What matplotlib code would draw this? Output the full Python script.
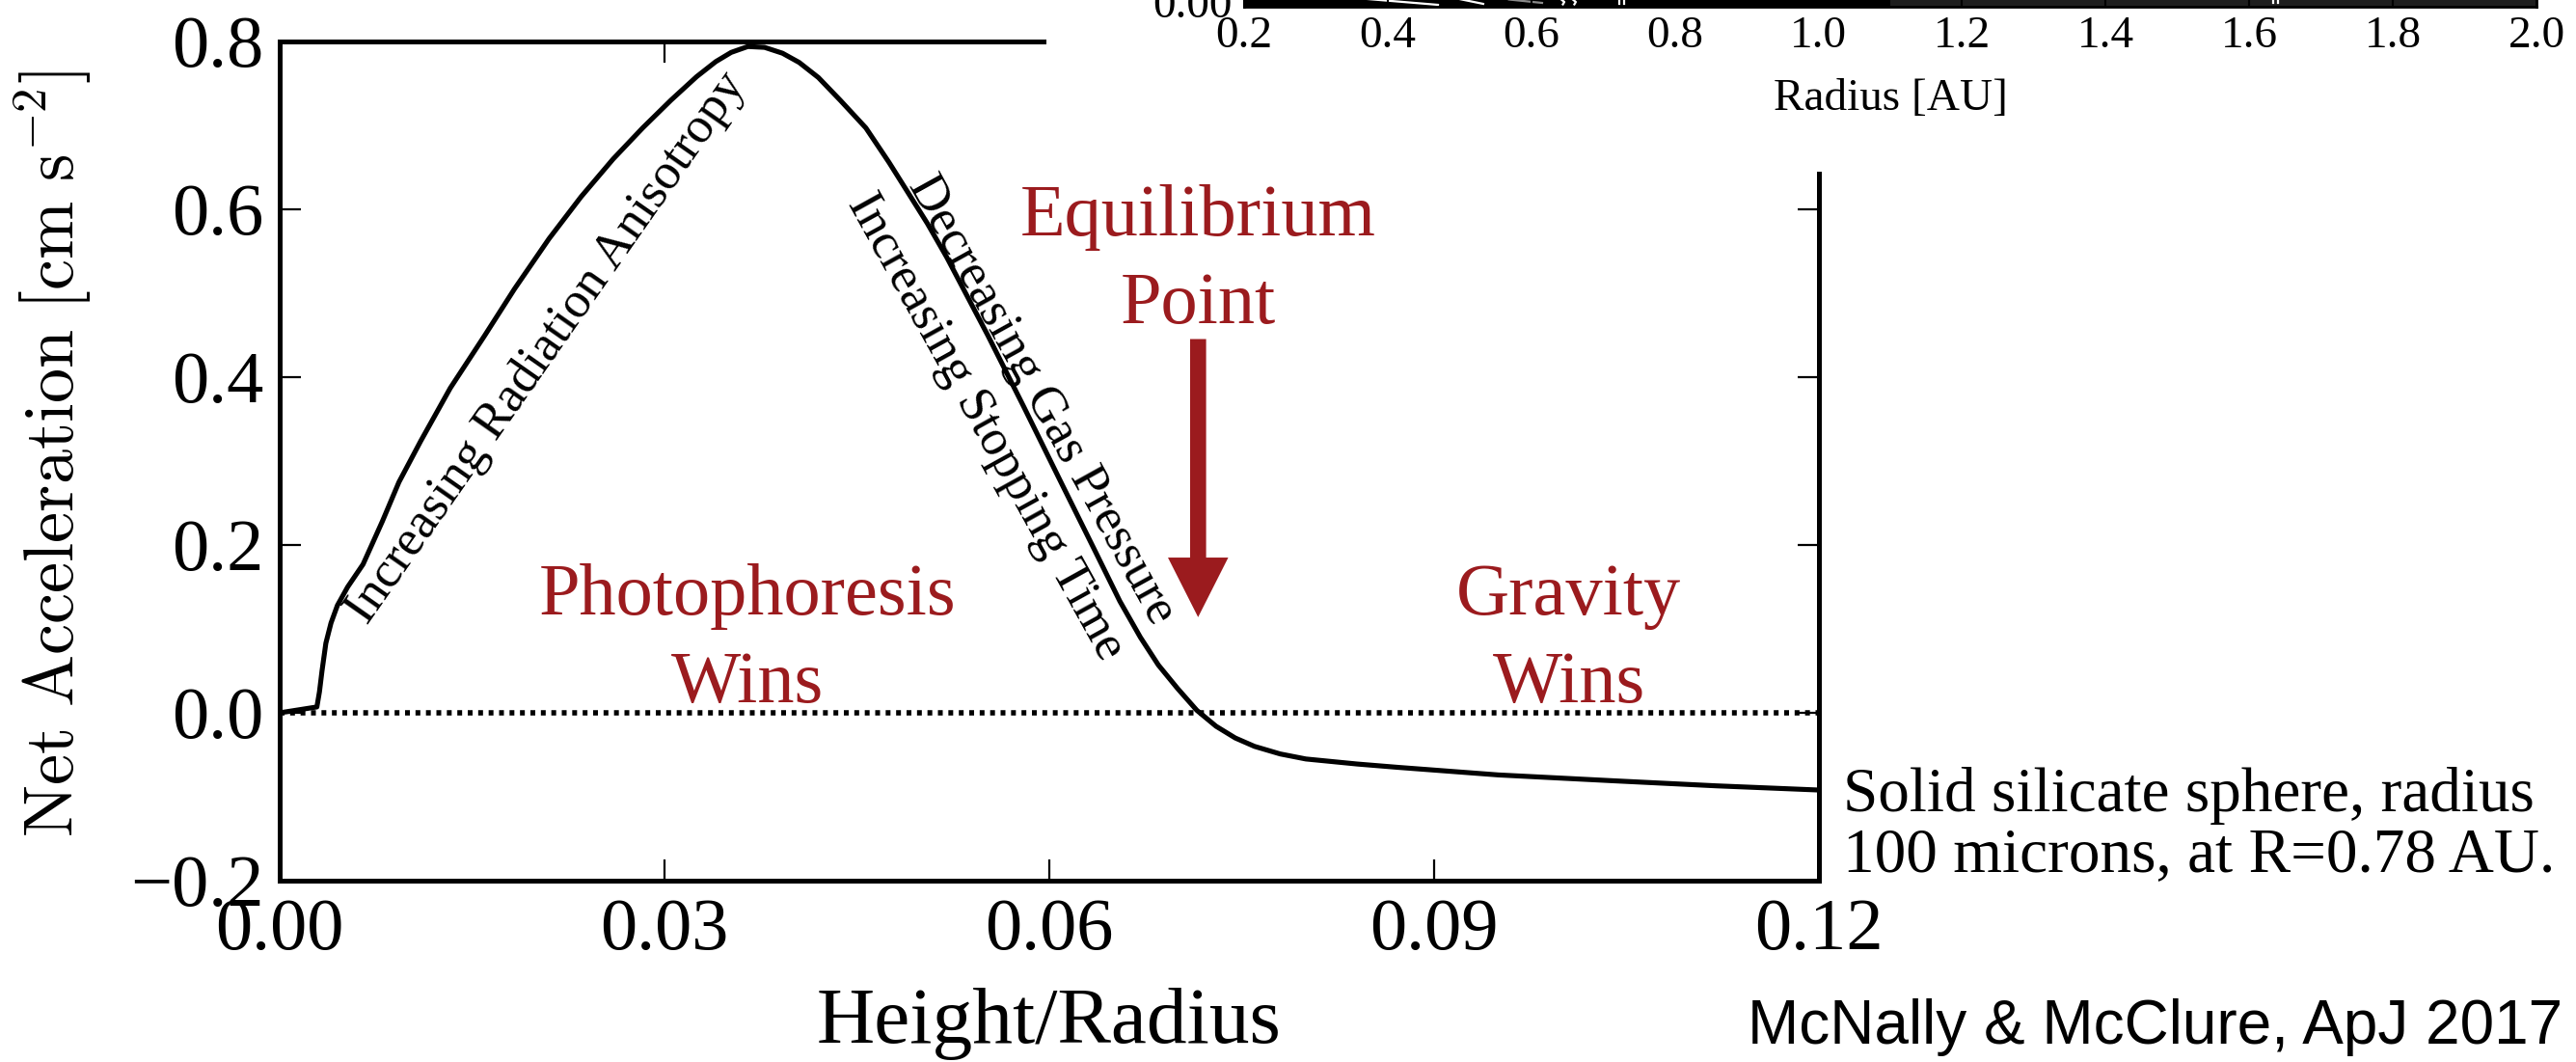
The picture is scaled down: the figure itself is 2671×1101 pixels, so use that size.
import matplotlib
matplotlib.use("Agg")
import matplotlib.pyplot as plt
from matplotlib.patches import Rectangle

plt.rcParams["font.family"] = ["Liberation Serif", "DejaVu Serif"]
plt.rcParams["mathtext.fontset"] = "cm"

# ---- main curve: net acceleration vs height above the midplane ----
height_over_radius = [0.0000, 0.0029, 0.0031, 0.0033, 0.0036, 0.0040, 0.0045, 0.0053,
                      0.0065, 0.0080, 0.0093, 0.0110, 0.0133, 0.0160, 0.0183, 0.0210,
                      0.0235, 0.0260, 0.0283, 0.0305, 0.0325, 0.0340, 0.0352, 0.0365,
                      0.0378, 0.0392, 0.0405, 0.0420, 0.0437, 0.0457, 0.0475, 0.0489,
                      0.0505, 0.0520, 0.0552, 0.0580, 0.0610, 0.0635, 0.0655, 0.0671,
                      0.0685, 0.0700, 0.0715, 0.0730, 0.0745, 0.0760, 0.0780, 0.0800,
                      0.0840, 0.0872, 0.0950, 0.1040, 0.1120, 0.1200]
net_acceleration = [0.000, 0.007, 0.025, 0.050, 0.083, 0.107, 0.128, 0.150,
                    0.177, 0.228, 0.275, 0.324, 0.387, 0.450, 0.505, 0.565,
                    0.615, 0.660, 0.697, 0.730, 0.758, 0.776, 0.787, 0.794,
                    0.793, 0.786, 0.775, 0.757, 0.730, 0.697, 0.656, 0.622,
                    0.583, 0.543, 0.450, 0.365, 0.272, 0.195, 0.133, 0.090,
                    0.057, 0.029, 0.003, -0.016, -0.030, -0.040, -0.049, -0.055,
                    -0.061, -0.065, -0.074, -0.081, -0.087, -0.092]

x_ticks = [0.0, 0.03, 0.06, 0.09, 0.12]
x_tick_labels = ["0.00", "0.03", "0.06", "0.09", "0.12"]
y_ticks = [-0.2, 0.0, 0.2, 0.4, 0.6, 0.8]
y_tick_labels = ["\u22120.2", "0.0", "0.2", "0.4", "0.6", "0.8"]

# equilibrium arrow (data units)
arrow_x = 0.0716
arrow_top = 0.4454
arrow_tip = 0.114

# ---- inset: radial map strip ----
inset_ticks = [0.2, 0.4, 0.6, 0.8, 1.0, 1.2, 1.4, 1.6, 1.8, 2.0]
inset_tick_labels = ["0.2", "0.4", "0.6", "0.8", "1.0", "1.2", "1.4", "1.6", "1.8", "2.0"]
inset_y_ticks = [0.0]
inset_y_tick_labels = ["0.00"]
inset_shade_start = 1.1
contour_a_r = [0.36, 0.47]
contour_a_z = [0.015, -0.012]
contour_b_r = [0.50, 0.533]
contour_b_z = [0.012, -0.008]
contour_c_r = [0.569, 0.615]
contour_c_z = [0.010, -0.004]
contour_d_r = [0.641, 0.646, 0.644]
contour_d_z = [0.012, 0.0, -0.010]
contour_e_r = [0.657, 0.662, 0.660]
contour_e_z = [0.012, 0.0, -0.010]
contour_f_r = [0.722, 0.722]
contour_f_z = [0.012, -0.008]
contour_g_r = [0.729, 0.729]
contour_g_z = [0.012, -0.008]
contour_h_r = [1.633, 1.633]
contour_h_z = [0.012, -0.004]
contour_i_r = [1.640, 1.640]
contour_i_z = [0.012, -0.004]

RED = "#9b1b1e"
W, H = 2671, 1101
fig = plt.figure(figsize=(W / 100, H / 100), dpi=100)


def px_box(left, top, right, bottom):
    return [left / W, 1 - bottom / H, (right - left) / W, (bottom - top) / H]


ax = fig.add_axes(px_box(290, 43, 1886, 913))
ax.set_xlim(0, 0.12)
ax.set_ylim(-0.2, 0.8)
ax.plot(height_over_radius, net_acceleration, color="black", lw=3.7,
        solid_joinstyle="round", solid_capstyle="round", zorder=3)
ax.axhline(0.0, color="black", lw=4.0, ls=(0, (0.9, 1.05)), zorder=2)

for s in ax.spines.values():
    s.set_linewidth(3.6)
ax.set_xticks(x_ticks, x_tick_labels)
ax.set_yticks(y_ticks, y_tick_labels)
ax.tick_params(direction="in", length=16, width=1.6, top=True, right=True,
               labelsize=55)
ax.tick_params(axis="x", pad=13)
ax.tick_params(axis="y", pad=12)

# regime labels
ax.text(0.0365, 0.117, "Photophoresis", color=RED, fontsize=55, ha="center", va="baseline")
ax.text(0.0365, 0.013, "Wins", color=RED, fontsize=55, ha="center", va="baseline")
ax.text(0.1005, 0.117, "Gravity", color=RED, fontsize=55, ha="center", va="baseline")
ax.text(0.1005, 0.013, "Wins", color=RED, fontsize=55, ha="center", va="baseline")
ax.text(arrow_x, 0.5695, "Equilibrium", color=RED, fontsize=55, ha="center", va="baseline")
ax.text(arrow_x, 0.4644, "Point", color=RED, fontsize=55, ha="center", va="baseline")

ax.arrow(arrow_x, arrow_top, 0, arrow_tip - arrow_top, width=0.00125,
         head_width=0.0047, head_length=0.071, length_includes_head=True,
         color=RED, lw=0, zorder=4)

# annotations along the curve
ax.text(0.02083, 0.4345, "Increasing Radiation Anisotropy", fontsize=38,
        rotation=55, rotation_mode="anchor", ha="center", va="center")
ax.text(0.0594, 0.3736, "Decreasing Gas Pressure", fontsize=38,
        rotation=-61, rotation_mode="anchor", ha="center", va="center")
ax.text(0.05504, 0.3402, "Increasing Stopping Time", fontsize=38,
        rotation=-61, rotation_mode="anchor", ha="center", va="center")

# particle description
ax.text(0.12188, -0.1172, "Solid silicate sphere, radius", fontsize=47,
        ha="left", va="baseline", clip_on=False)
ax.text(0.12188, -0.1885, "100 microns, at R=0.78 AU.", fontsize=47,
        ha="left", va="baseline", clip_on=False)

fig.text(1088 / W, 1 - 1081 / H, "Height/Radius", fontsize=60,
         ha="center", va="baseline")
fig.text(77 / W, 1 - 470.5 / H, r"$\mathrm{Net\ Acceleration\ [cm\ s^{-2}]}$",
         fontsize=52, rotation=90, rotation_mode="anchor", ha="center", va="baseline")
fig.text(2657 / W, 1 - 1082 / H, "McNally & McClure, ApJ 2017", fontsize=46,
         family=["Liberation Sans", "DejaVu Sans"], ha="right", va="baseline")

# white backing behind the inset and its labels
fig.patches.append(Rectangle((1085 / W, 1 - 178 / H), 1 - 1085 / W, 178 / H,
                             transform=fig.transFigure, facecolor="white",
                             edgecolor="none", zorder=1))

axi = fig.add_axes(px_box(1290, 7 - 255, 2630, 7), zorder=2)
axi.set_facecolor("black")
axi.set_xlim(0.2, 2.0)
axi.set_ylim(-0.02, 1.0)
axi.axvspan(inset_shade_start, 2.0, color="#1e1e1e", lw=0, zorder=0)
for r, z, c in [(contour_a_r, contour_a_z, "white"), (contour_b_r, contour_b_z, "white"),
                (contour_c_r, contour_c_z, "#8a8a8a"), (contour_d_r, contour_d_z, "white"),
                (contour_e_r, contour_e_z, "white"), (contour_f_r, contour_f_z, "white"),
                (contour_g_r, contour_g_z, "white"), (contour_h_r, contour_h_z, "white"),
                (contour_i_r, contour_i_z, "white")]:
    axi.plot(r, z, color=c, lw=1.6, zorder=1)
for s in axi.spines.values():
    s.set_linewidth(2)
    s.set_color("black")
axi.set_xticks(inset_ticks, inset_tick_labels)
axi.set_yticks(inset_y_ticks, inset_y_tick_labels)
axi.tick_params(direction="in", length=14, width=1.5, color="black", labelsize=34)
axi.tick_params(axis="x", pad=7)
axi.tick_params(axis="y", pad=9)
fig.text(1960 / W, 1 - 114 / H, "Radius [AU]", fontsize=34, ha="center",
         va="baseline", zorder=3)

fig.savefig("out.png", dpi=100, facecolor="white")
